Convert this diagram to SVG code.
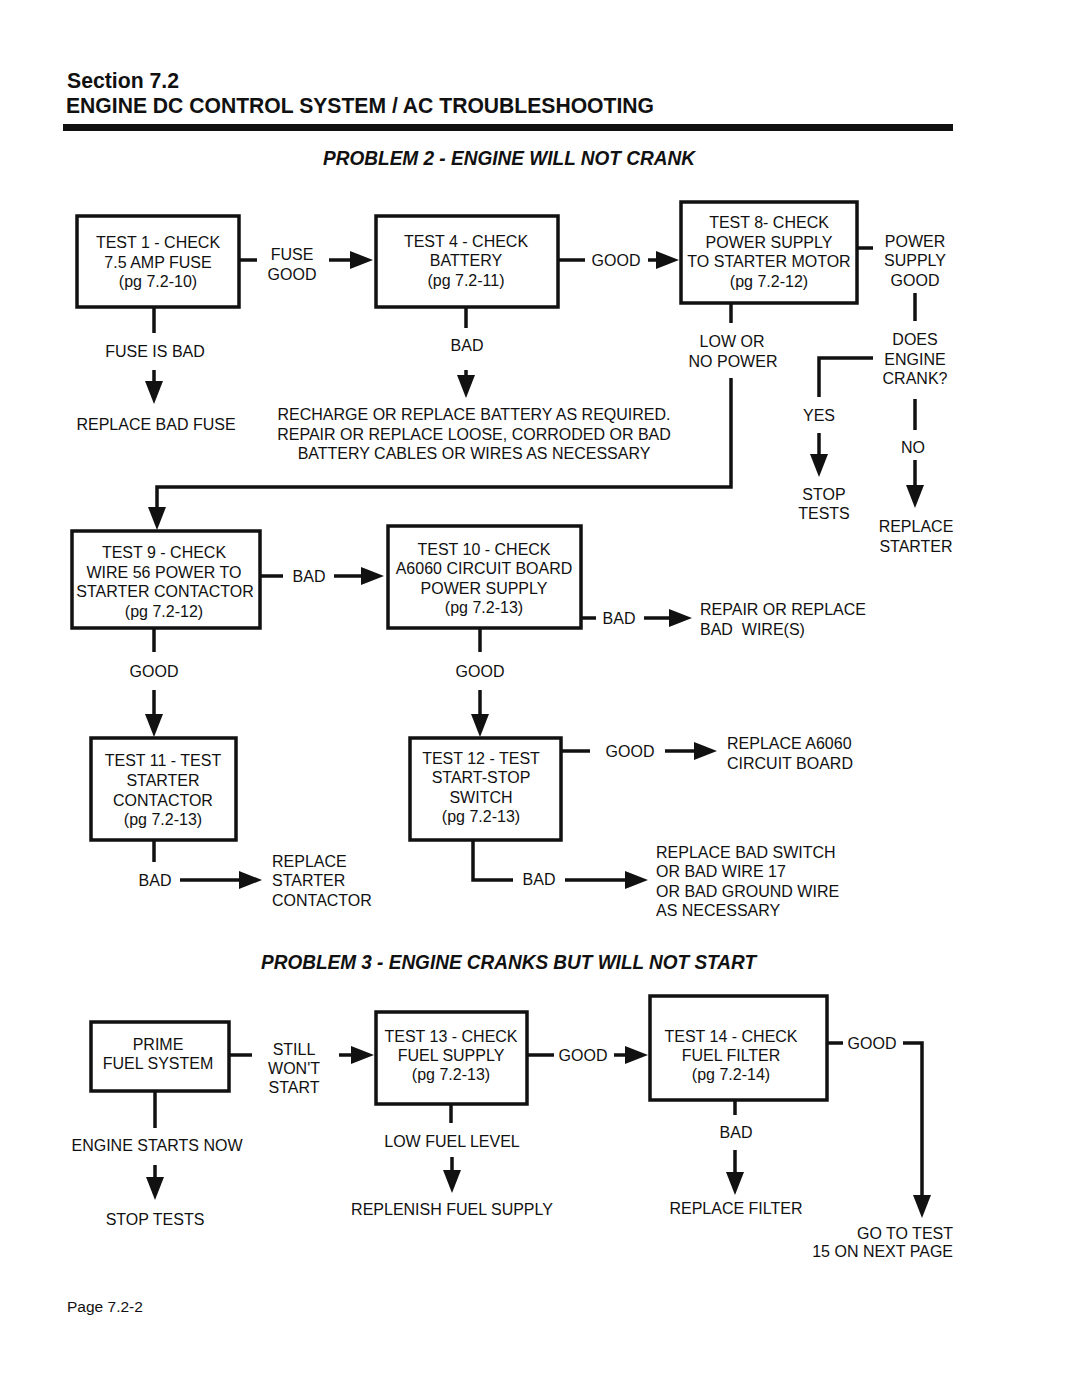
<svg xmlns="http://www.w3.org/2000/svg" width="1080" height="1397" viewBox="0 0 1080 1397">
<defs>
<style>
text{font-family:"Liberation Sans",Arial,Helvetica,sans-serif;fill:#111;}
.t{font-size:16px;text-anchor:middle;}
.l{font-size:16px;text-anchor:start;}
.r{font-size:16px;text-anchor:end;}
.h{font-size:21.5px;font-weight:bold;}
.p{font-size:20px;font-weight:bold;font-style:italic;}
.box{fill:#fff;stroke:#111;stroke-width:3.5;}
.c{fill:none;stroke:#111;stroke-width:3.5;stroke-linejoin:miter;}
.a{fill:none;stroke:#111;stroke-width:3.5;marker-end:url(#ah);}
</style>
<marker id="ah" markerUnits="userSpaceOnUse" markerWidth="24" markerHeight="18" refX="0" refY="9" orient="auto" overflow="visible">
<path d="M0,0 L23,9 L0,18 Z" fill="#111"/>
</marker>
</defs>
<rect width="1080" height="1397" fill="#fff"/>

<g id="header">
<text class="h" x="67" y="88" textLength="112" lengthAdjust="spacingAndGlyphs">Section 7.2</text>
<text class="h" x="66" y="113" textLength="588" lengthAdjust="spacingAndGlyphs">ENGINE DC CONTROL SYSTEM / AC TROUBLESHOOTING</text>
<rect x="63" y="124" width="890" height="7" fill="#111"/>
<text class="p" x="323" y="165" textLength="372" lengthAdjust="spacingAndGlyphs">PROBLEM 2 - ENGINE WILL NOT CRANK</text>
<text class="p" x="261" y="969" textLength="495" lengthAdjust="spacingAndGlyphs">PROBLEM 3 - ENGINE CRANKS BUT WILL NOT START</text>
</g>

<g id="connectors">
<path class="c" d="M240,260 H257"/>
<path class="a" d="M329,260 H350"/>
<path class="c" d="M154,308 V333"/>
<path class="a" d="M154,370 V381"/>
<path class="c" d="M558,260 H585"/>
<path class="a" d="M648,260 H656"/>
<path class="c" d="M466,308 V328"/>
<path class="a" d="M466,370 V375"/>
<path class="c" d="M858,248 H873"/>
<path class="c" d="M915,293 V321"/>
<path class="c" d="M873,358 H819 V397"/>
<path class="a" d="M819,433 V454"/>
<path class="c" d="M915,399 V430"/>
<path class="a" d="M915,460 V485"/>
<path class="c" d="M731,304 V323"/>
<path class="a" d="M731,378 V487 H157 V507"/>
<path class="c" d="M261,576 H283"/>
<path class="a" d="M334,576 H361"/>
<path class="c" d="M581,618 H596"/>
<path class="a" d="M644,618 H669"/>
<path class="c" d="M154,628 V652"/>
<path class="a" d="M154,690 V714"/>
<path class="c" d="M480,628 V652"/>
<path class="a" d="M480,690 V714"/>
<path class="c" d="M154,840 V862"/>
<path class="a" d="M180,880 H239"/>
<path class="c" d="M561,751 H590"/>
<path class="a" d="M665,751 H694"/>
<path class="c" d="M473,840 V880 H513"/>
<path class="a" d="M565,880 H625"/>
<path class="c" d="M229,1055 H252"/>
<path class="a" d="M339,1055 H351"/>
<path class="c" d="M155,1091 V1128"/>
<path class="a" d="M155,1165 V1177"/>
<path class="c" d="M527,1055 H554"/>
<path class="a" d="M614,1055 H625"/>
<path class="c" d="M451,1104 V1123"/>
<path class="a" d="M452,1157 V1170"/>
<path class="c" d="M828,1043 H843"/>
<path class="a" d="M903,1043 H922 V1195"/>
<path class="c" d="M735,1101 V1115"/>
<path class="a" d="M735,1150 V1172"/>
</g>

<g id="test1">
<rect class="box" x="77" y="216" width="162" height="91"/>
<text class="t" x="158" y="248">TEST 1 - CHECK</text>
<text class="t" x="158" y="268">7.5 AMP FUSE</text>
<text class="t" x="158" y="287">(pg 7.2-10)</text>
</g>
<g id="fuse-good"><text class="t" x="292" y="260">FUSE</text><text class="t" x="292" y="280">GOOD</text></g>
<g id="fuse-bad"><text class="t" x="155" y="357">FUSE IS BAD</text></g>
<g id="replace-fuse"><text class="t" x="156" y="430">REPLACE BAD FUSE</text></g>

<g id="test4">
<rect class="box" x="376" y="216" width="182" height="91"/>
<text class="t" x="466" y="247">TEST 4 - CHECK</text>
<text class="t" x="466" y="266">BATTERY</text>
<text class="t" x="466" y="286">(pg 7.2-11)</text>
</g>
<g id="bad4"><text class="t" x="467" y="351">BAD</text></g>
<g id="recharge">
<text class="t" x="474" y="420">RECHARGE OR REPLACE BATTERY AS REQUIRED.</text>
<text class="t" x="474" y="440">REPAIR OR REPLACE LOOSE, CORRODED OR BAD</text>
<text class="t" x="474" y="459">BATTERY CABLES OR WIRES AS NECESSARY</text>
</g>
<g id="good4"><text class="t" x="616" y="266">GOOD</text></g>

<g id="test8">
<rect class="box" x="681" y="202" width="176" height="101"/>
<text class="t" x="769" y="228">TEST 8- CHECK</text>
<text class="t" x="769" y="248">POWER SUPPLY</text>
<text class="t" x="769" y="267">TO STARTER MOTOR</text>
<text class="t" x="769" y="287">(pg 7.2-12)</text>
</g>
<g id="psgood"><text class="t" x="915" y="247">POWER</text><text class="t" x="915" y="266">SUPPLY</text><text class="t" x="915" y="286">GOOD</text></g>
<g id="crank"><text class="t" x="915" y="345">DOES</text><text class="t" x="915" y="365">ENGINE</text><text class="t" x="915" y="384">CRANK?</text></g>
<g id="yes"><text class="t" x="819" y="421">YES</text></g>
<g id="stop1"><text class="t" x="824" y="500">STOP</text><text class="t" x="824" y="519">TESTS</text></g>
<g id="no"><text class="t" x="913" y="453">NO</text></g>
<g id="replace-starter"><text class="t" x="916" y="532">REPLACE</text><text class="t" x="916" y="552">STARTER</text></g>
<g id="lowpower"><text class="t" x="732" y="347">LOW OR</text><text class="t" x="733" y="367">NO POWER</text></g>

<g id="test9">
<rect class="box" x="72" y="531" width="188" height="97"/>
<text class="t" x="164" y="558">TEST 9 - CHECK</text>
<text class="t" x="164" y="578">WIRE 56 POWER TO</text>
<text class="t" x="165" y="597">STARTER CONTACTOR</text>
<text class="t" x="164" y="617">(pg 7.2-12)</text>
</g>
<g id="bad9"><text class="t" x="309" y="582">BAD</text></g>

<g id="test10">
<rect class="box" x="388" y="526" width="193" height="102"/>
<text class="t" x="484" y="555">TEST 10 - CHECK</text>
<text class="t" x="484" y="574">A6060 CIRCUIT BOARD</text>
<text class="t" x="484" y="594">POWER SUPPLY</text>
<text class="t" x="484" y="613">(pg 7.2-13)</text>
</g>
<g id="bad10"><text class="t" x="619" y="624">BAD</text></g>
<g id="repair-wires"><text class="l" x="700" y="615">REPAIR OR REPLACE</text><text class="l" x="700" y="635" xml:space="preserve">BAD  WIRE(S)</text></g>

<g id="good9"><text class="t" x="154" y="677">GOOD</text></g>
<g id="good10"><text class="t" x="480" y="677">GOOD</text></g>

<g id="test11">
<rect class="box" x="91" y="738" width="145" height="102"/>
<text class="t" x="163" y="766">TEST 11 - TEST</text>
<text class="t" x="163" y="786">STARTER</text>
<text class="t" x="163" y="806">CONTACTOR</text>
<text class="t" x="163" y="825">(pg 7.2-13)</text>
</g>
<g id="bad11"><text class="t" x="155" y="886">BAD</text></g>
<g id="replace-contactor"><text class="l" x="272" y="867">REPLACE</text><text class="l" x="272" y="886">STARTER</text><text class="l" x="272" y="906">CONTACTOR</text></g>

<g id="test12">
<rect class="box" x="410" y="738" width="151" height="102"/>
<text class="t" x="481" y="764">TEST 12 - TEST</text>
<text class="t" x="481" y="783">START-STOP</text>
<text class="t" x="481" y="803">SWITCH</text>
<text class="t" x="481" y="822">(pg 7.2-13)</text>
</g>
<g id="good12"><text class="t" x="630" y="757">GOOD</text></g>
<g id="replace-a6060"><text class="l" x="727" y="749">REPLACE A6060</text><text class="l" x="727" y="769">CIRCUIT BOARD</text></g>
<g id="bad12"><text class="t" x="539" y="885">BAD</text></g>
<g id="replace-switch">
<text class="l" x="656" y="858">REPLACE BAD SWITCH</text>
<text class="l" x="656" y="877">OR BAD WIRE 17</text>
<text class="l" x="656" y="897">OR BAD GROUND WIRE</text>
<text class="l" x="656" y="916">AS NECESSARY</text>
</g>

<g id="prime">
<rect class="box" x="91" y="1022" width="138" height="69"/>
<text class="t" x="158" y="1050">PRIME</text>
<text class="t" x="158" y="1069">FUEL SYSTEM</text>
</g>
<g id="still"><text class="t" x="294" y="1055">STILL</text><text class="t" x="294" y="1074">WON'T</text><text class="t" x="294" y="1093">START</text></g>
<g id="starts-now"><text class="t" x="157" y="1151">ENGINE STARTS NOW</text></g>
<g id="stop2"><text class="t" x="155" y="1225">STOP TESTS</text></g>

<g id="test13">
<rect class="box" x="376" y="1012" width="151" height="92"/>
<text class="t" x="451" y="1042">TEST 13 - CHECK</text>
<text class="t" x="451" y="1061">FUEL SUPPLY</text>
<text class="t" x="451" y="1080">(pg 7.2-13)</text>
</g>
<g id="good13"><text class="t" x="583" y="1061">GOOD</text></g>
<g id="lowfuel"><text class="t" x="452" y="1147">LOW FUEL LEVEL</text></g>
<g id="replenish"><text class="t" x="452" y="1215">REPLENISH FUEL SUPPLY</text></g>

<g id="test14">
<rect class="box" x="650" y="996" width="177" height="104"/>
<text class="t" x="731" y="1042">TEST 14 - CHECK</text>
<text class="t" x="731" y="1061">FUEL FILTER</text>
<text class="t" x="731" y="1080">(pg 7.2-14)</text>
</g>
<g id="good14"><text class="t" x="872" y="1049">GOOD</text></g>
<g id="bad14"><text class="t" x="736" y="1138">BAD</text></g>
<g id="replace-filter"><text class="t" x="736" y="1214">REPLACE FILTER</text></g>
<g id="goto"><text class="r" x="953" y="1239">GO TO TEST</text><text class="r" x="953" y="1257">15 ON NEXT PAGE</text></g>

<g id="footer"><text class="l" x="67" y="1312" style="font-size:15.5px">Page 7.2-2</text></g>
</svg>
